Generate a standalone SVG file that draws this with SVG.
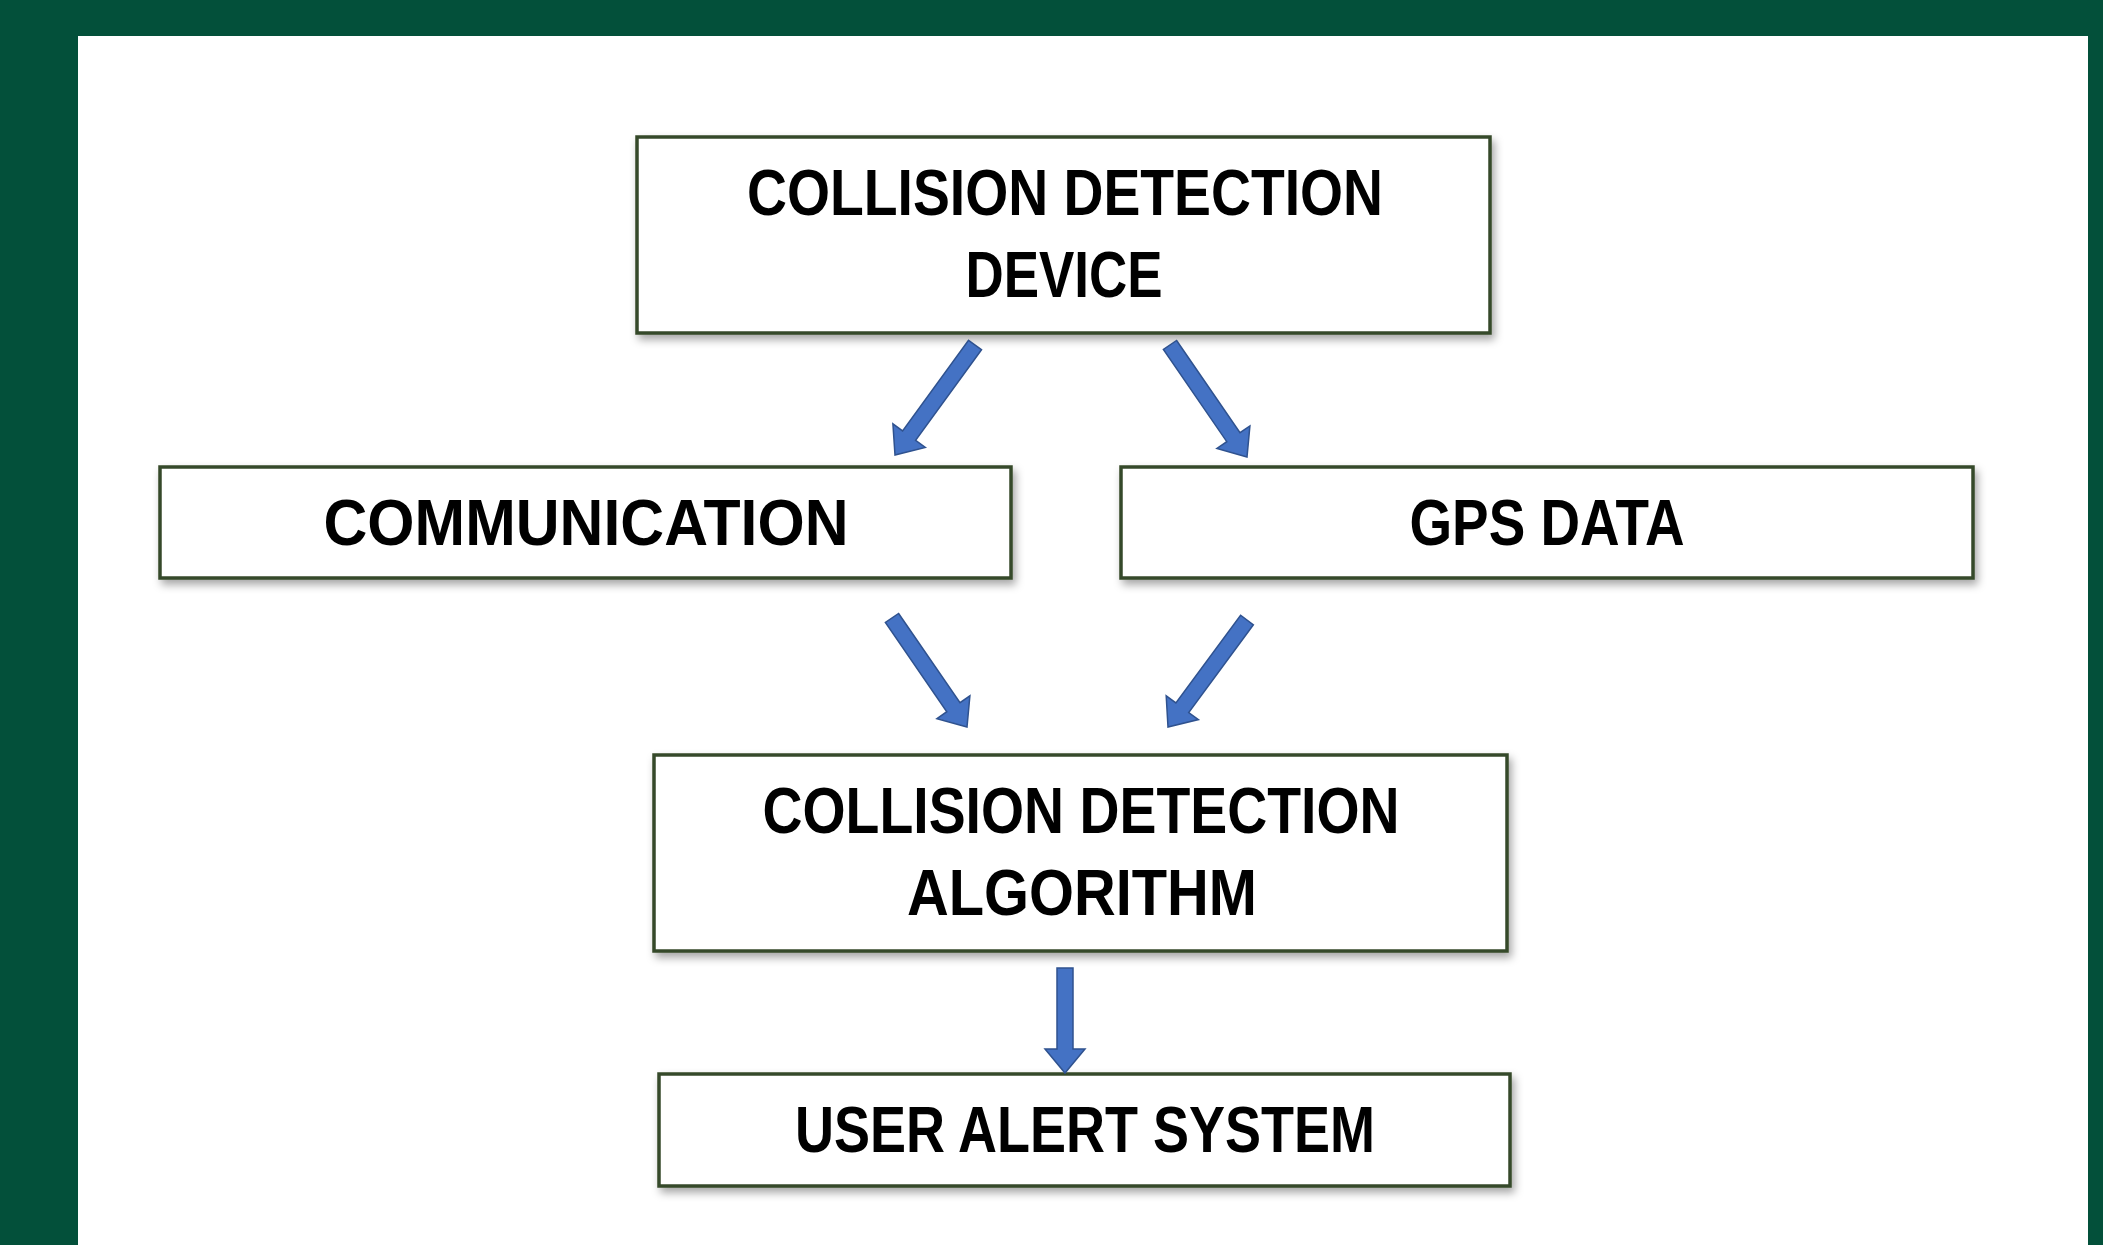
<svg xmlns="http://www.w3.org/2000/svg" width="2103" height="1245" viewBox="0 0 2103 1245">
  <style>
    .box { fill: #ffffff; stroke: #36492a; stroke-width: 3.5; filter: url(#shadow); }
    .lbl { font-family: "Liberation Sans", Arial, sans-serif; font-weight: bold; font-size: 64px; fill: #000000; text-anchor: middle; }
    .arrow { fill: #4472c4; stroke: #2f528f; stroke-width: 1.5; stroke-linejoin: miter; }
  </style>
  <defs>
    <filter id="shadow" x="-5%" y="-20%" width="115%" height="150%">
      <feDropShadow dx="3" dy="5" stdDeviation="4" flood-color="#000000" flood-opacity="0.35"/>
    </filter>
  </defs>
  <rect x="0" y="0" width="2103" height="1245" fill="#03503a"/>
  <rect x="78" y="36" width="2010" height="1209" fill="#ffffff"/>

  <g id="node-device">
    <rect class="box" x="637" y="137" width="853" height="196"/>
    <text class="lbl" x="1065" y="215" textLength="636" lengthAdjust="spacingAndGlyphs">COLLISION DETECTION</text>
    <text class="lbl" x="1064" y="297" textLength="197" lengthAdjust="spacingAndGlyphs">DEVICE</text>
  </g>
  <g id="node-communication">
    <rect class="box" x="160" y="467" width="851" height="111"/>
    <text class="lbl" x="586" y="545" textLength="525" lengthAdjust="spacingAndGlyphs">COMMUNICATION</text>
  </g>
  <g id="node-gps">
    <rect class="box" x="1121" y="467" width="852" height="111"/>
    <text class="lbl" x="1547" y="545" textLength="275" lengthAdjust="spacingAndGlyphs">GPS DATA</text>
  </g>
  <g id="node-algorithm">
    <rect class="box" x="654" y="755" width="853" height="196"/>
    <text class="lbl" x="1081" y="833" textLength="637" lengthAdjust="spacingAndGlyphs">COLLISION DETECTION</text>
    <text class="lbl" x="1082" y="915" textLength="350" lengthAdjust="spacingAndGlyphs">ALGORITHM</text>
  </g>
  <g id="node-alert">
    <rect class="box" x="659" y="1074" width="851" height="112"/>
    <text class="lbl" x="1085" y="1152" textLength="580" lengthAdjust="spacingAndGlyphs">USER ALERT SYSTEM</text>
  </g>

  <g id="connectors">
    <polygon class="arrow" points="981.5,349.7 915.6,440.3 925.3,447.4 895,455 892.9,423.8 902.6,430.9 968.5,340.3"/>
    <polygon class="arrow" points="1176.6,340.5 1240,432.7 1249.9,425.9 1247,457 1216.9,448.5 1226.8,441.7 1163.4,349.5"/>
    <polygon class="arrow" points="898.6,613.5 960,702.7 969.9,695.8 967,727 936.9,718.6 946.8,711.7 885.4,622.5"/>
    <polygon class="arrow" points="1253.4,624.8 1188.7,712.5 1198.4,719.6 1168,727 1166.2,695.8 1175.9,702.9 1240.6,615.2"/>
    <polygon class="arrow" points="1057,968 1057,1049 1045,1049 1065,1073 1085,1049 1073,1049 1073,968"/>
  </g>
</svg>
